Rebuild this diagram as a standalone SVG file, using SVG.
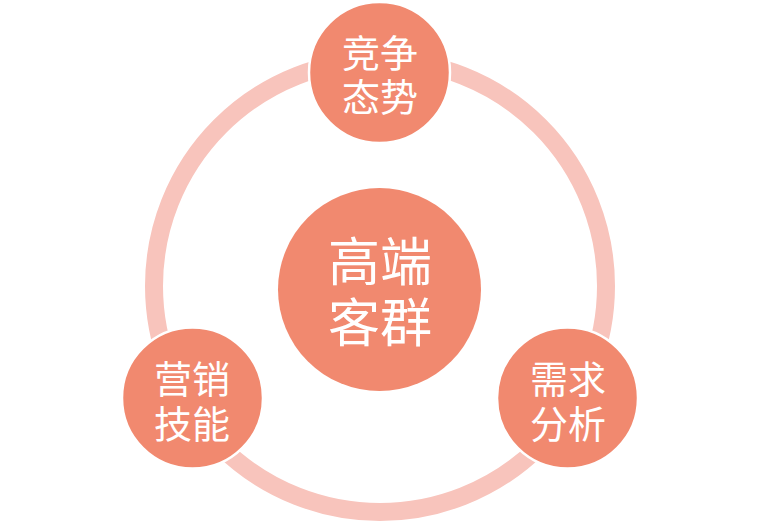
<svg xmlns="http://www.w3.org/2000/svg" width="760" height="524" viewBox="0 0 760 524">
<style>
.node{fill:#F1896F;stroke:#FFFFFF;stroke-width:2.5}
.lbl{fill:#FFFFFF;font-family:"Noto Sans CJK SC","Noto Sans",sans-serif;text-anchor:middle;dominant-baseline:central}
.s{font-size:38px}
.b{font-size:52px}
</style>
<rect width="760" height="524" fill="#FFFFFF"/>
<g id="connectors">
<circle cx="380" cy="286" r="226" fill="none" stroke="#F8C4BC" stroke-width="18"/>
</g>
<g id="center">
<circle cx="379.5" cy="289.5" r="101.5" fill="#F1896F"/>
<text class="lbl b"><tspan x="380" y="258">高端</tspan><tspan x="380" y="319">客群</tspan></text>
</g>
<g id="top">
<circle class="node" cx="379.5" cy="72.5" r="70.5"/>
<text class="lbl s"><tspan x="380" y="50">竞争</tspan><tspan x="380" y="94">态势</tspan></text>
</g>
<g id="left">
<circle class="node" cx="192.5" cy="398" r="70.5"/>
<text class="lbl s"><tspan x="192" y="375.5">营销</tspan><tspan x="192" y="420.5">技能</tspan></text>
</g>
<g id="right">
<circle class="node" cx="567.5" cy="398" r="70.5"/>
<text class="lbl s"><tspan x="568" y="375.5">需求</tspan><tspan x="568" y="420.5">分析</tspan></text>
</g>
</svg>
